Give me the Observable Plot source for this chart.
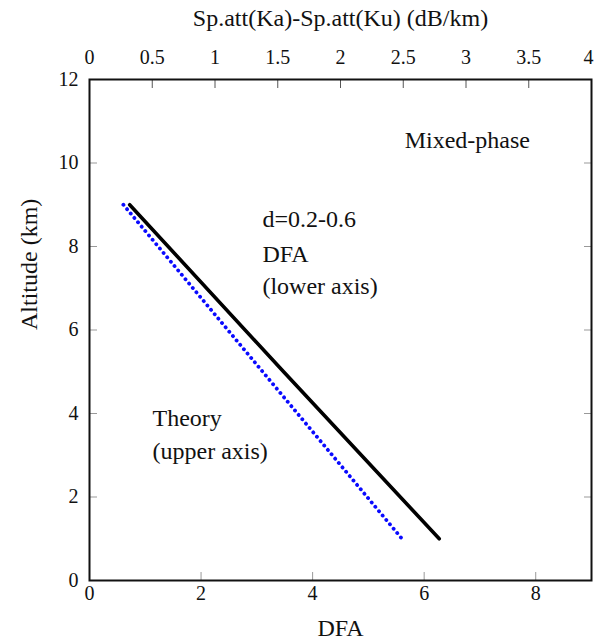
<!DOCTYPE html>
<html>
<head>
<meta charset="utf-8">
<script src="https://cdn.jsdelivr.net/npm/d3@7"></script>
<script src="https://cdn.jsdelivr.net/npm/@observablehq/plot@0.6"></script>
<style>
  html, body { margin: 0; padding: 0; background: #fff; }
</style>
</head>
<body>
<div id="chart"></div>
<script>
// Altitude (km) at which the curves are read
const altitude = [9, 5, 1];
// DFA (lower axis), mixed-phase, d = 0.2-0.6
const dfaLower = [0.72, 3.48, 6.27];
// Theory: Sp.att(Ka)-Sp.att(Ku) in dB/km (upper axis)
const theoryUpper = [0.27, 1.38, 2.49];

// Axis ticks
const lowerTicks = [0, 2, 4, 6, 8];
const upperTicks = [0, 0.5, 1, 1.5, 2, 2.5, 3, 3.5, 4];
const altTicks = [0, 2, 4, 6, 8, 10, 12];
const rightTicks = [2, 4, 6, 8, 10];

// Upper axis (dB/km) to lower axis (DFA) ratio: 4 dB/km spans 9 DFA
const upperToLower = 9 / 4;

// Annotations
const notes = [
  {text: "Mixed-phase", x: 5.65, y: 10.54},
  {text: "d=0.2-0.6", x: 3.10, y: 8.64},
  {text: "DFA", x: 3.10, y: 7.82},
  {text: "(lower axis)", x: 3.10, y: 7.05},
  {text: "Theory", x: 1.13, y: 3.88},
  {text: "(upper axis)", x: 1.13, y: 3.10}
];

const FONT = "'Liberation Serif', 'Times New Roman', serif";
const TICK_FS = 20;
const noLabel = () => "";

const dfaData = altitude.map((a, i) => ({alt: a, x: dfaLower[i]}));
const theoryData = altitude.map((a, i) => ({alt: a, x: theoryUpper[i] * upperToLower}));
const upperMain = upperTicks.slice(0, -1);
const upperLast = upperTicks.slice(-1);

const chart = Plot.plot({
  width: 595,
  height: 640,
  marginLeft: 89,
  marginRight: 4,
  marginTop: 79,
  marginBottom: 60,
  style: {fontFamily: FONT, background: "#fff", color: "#111"},
  x: {domain: [0, 9]},
  y: {domain: [0, 12]},
  marks: [
    // inward tick marks
    Plot.axisX(lowerTicks, {anchor: "bottom", tickSize: -8, tickFormat: noLabel, stroke: "#999", label: null}),
    Plot.axisX(upperTicks.map(v => v * upperToLower), {anchor: "top", tickSize: -8, tickFormat: noLabel, stroke: "#555", label: null}),
    Plot.axisY(altTicks, {anchor: "left", tickSize: -8, tickFormat: noLabel, stroke: "#999", label: null}),
    Plot.axisY(rightTicks, {anchor: "right", tickSize: -8, tickFormat: noLabel, stroke: "#999", label: null}),
    // tick labels
    Plot.text(lowerTicks, {x: d => d, text: d => String(d), frameAnchor: "bottom", dy: 13, lineAnchor: "middle", fontSize: TICK_FS, fontFamily: FONT, fill: "#111"}),
    Plot.text(altTicks, {y: d => d, text: d => String(d), frameAnchor: "left", dx: -11, textAnchor: "end", lineAnchor: "middle", fontSize: TICK_FS, fontFamily: FONT, fill: "#111"}),
    Plot.text(upperMain, {x: d => d * upperToLower, text: d => String(d), frameAnchor: "top", dy: -22, lineAnchor: "middle", fontSize: TICK_FS, fontFamily: FONT, fill: "#111"}),
    Plot.text(upperLast, {x: d => d * upperToLower, text: d => String(d), frameAnchor: "top", dy: -22, dx: -3, lineAnchor: "middle", fontSize: TICK_FS, fontFamily: FONT, fill: "#111"}),
    Plot.frame({stroke: "#111", strokeWidth: 2}),
    Plot.line(theoryData, {x: "x", y: "alt", stroke: "#0a0aff", strokeWidth: 3.8, strokeDasharray: "0.1 5.6", strokeLinecap: "round"}),
    Plot.line(dfaData, {x: "x", y: "alt", stroke: "#000", strokeWidth: 3.6, strokeLinecap: "round"}),
    Plot.text(notes, {x: "x", y: "y", text: "text", textAnchor: "start", lineAnchor: "middle", fontSize: 24, fontFamily: FONT, fill: "#111"}),
    Plot.text(["Sp.att(Ka)-Sp.att(Ku) (dB/km)"], {text: d => d, frameAnchor: "top", dy: -61, lineAnchor: "middle", fontSize: 24, fontFamily: FONT, fill: "#111"}),
    Plot.text(["DFA"], {text: d => d, frameAnchor: "bottom", dy: 48, lineAnchor: "middle", fontSize: 24, fontFamily: FONT, fill: "#111"}),
    Plot.text(["Altitude (km)"], {text: d => d, frameAnchor: "left", dx: -60, rotate: -90, lineAnchor: "middle", fontSize: 24, fontFamily: FONT, fill: "#111"})
  ]
});
document.getElementById("chart").appendChild(chart);
</script>
</body>
</html>
